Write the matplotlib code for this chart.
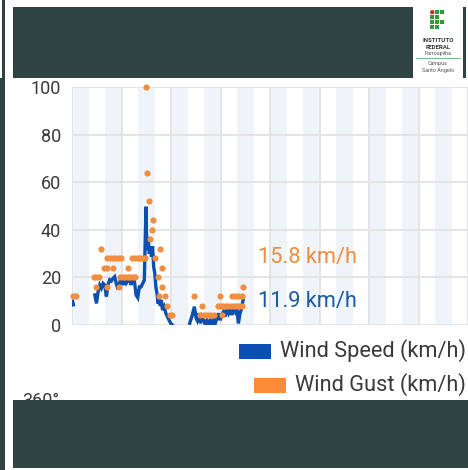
import matplotlib
matplotlib.use('Agg')
import matplotlib.pyplot as plt
from matplotlib.patches import Rectangle, Circle
import numpy as np

W, H = 468, 470

# ---------------- data (time in minutes since start) ----------------
speed_t = [2, 5, 40,
           83, 89, 95, 101, 107, 113, 119, 125, 131, 137, 143, 149, 155, 161, 167, 173,
           179, 185, 191, 197, 203, 209, 215, 221, 227, 233, 239, 245, 251, 263, 269,
           272, 277, 281, 285, 289, 293, 297, 301, 305, 309, 313, 317, 321, 325, 329,
           335, 341, 347, 353, 359, 365, 400,
           428, 437, 445, 451, 455, 461, 467, 473, 479, 485, 491, 497, 503, 509, 515,
           521, 527, 533, 539, 545, 551, 557, 563, 569, 575, 581, 587, 593, 599, 605,
           611, 617, 623]
speed_v = [10, 8.5, np.nan,
           12.6, 9.1, 14, 16.8, 15.5, 17.5, 16.8, 12, 17, 19, 18.5, 19.6, 20.3, 17.5, 15, 17.5,
           20.3, 16.8, 19, 17.5, 18.5, 19.6, 16.8, 20.3, 18.5, 12.6, 11.5, 16, 16, 18.9, 49.7,
           31.5, 37, 30, 33, 28.7, 33, 24.5, 21.7, 16, 13.3, 9, 12, 8, 10.5, 6.3,
           7.7, 5, 3.5, 2, 0.7, 0, np.nan,
           0.7, 4, 7.7, 3, 2, 4.9, 0.7, 3.5, 2, 0, 2, 0.7, 2, 0, 2,
           0.7, 2.8, 4.9, 2, 4.2, 5.6, 3.5, 6.3, 4.9, 7, 4.2, 7, 5.6, 7.7, 0.7,
           4.9, 7, 11.2]

gust_t = [2, 14,
          79, 89, 98, 89, 107, 116, 128, 128,
          128, 139, 149, 158, 169, 179, 149,
          176, 185, 194, 203, 212, 221, 230, 170, 203,
          218, 228, 239, 248, 259, 266,
          270, 274, 281, 284, 290, 296, 302, 311, 320, 326, 329, 317, 338, 344, 356, 365,
          445, 473, 467, 479, 491, 503, 515, 539,
          530, 540, 550, 559, 569, 578, 588, 598, 607, 617,
          583, 593, 605, 617, 623, 545]
gust_v = [12, 12,
          20, 20, 20, 16, 32, 24, 24, 16,
          28, 28, 28, 28, 28, 28, 24,
          20, 20, 20, 20, 20, 20, 20, 16, 24,
          28, 28, 28, 28, 28, 28,
          100, 64, 52, 36, 40, 44, 28, 20, 32, 24, 16, 12, 12, 8, 4, 4,
          12, 8, 4, 4, 4, 4, 4, 12,
          8, 8, 8, 8, 8, 8, 8, 8, 8, 8,
          12, 12, 12, 12, 16, 4]

y_ticks = [0, 20, 40, 60, 80, 100]
latest_gust_label = "15.8 km/h"
latest_speed_label = "11.9 km/h"
legend_labels = ["Wind Speed (km/h)", "Wind Gust (km/h)"]
next_axis_label = "360°"

# ---------------- style ----------------
DARK = '#2f4442'
BLUE = '#0b4fb0'
ORANGE = '#f28e3f'
BAND = '#eef4fa'
GRID = '#e4e4e4'
TXT = '#3a3a3a'
FONT = ['Roboto', 'DejaVu Sans']
plt.rcParams['font.family'] = FONT

fig = plt.figure(figsize=(W / 100, H / 100), dpi=100)
fig.patch.set_facecolor('white')


def fx(px):
    return px / W


def fy(py):
    return 1 - py / H


def rect(x0, y0, x1, y1, color, z=2, **kw):
    fig.add_artist(Rectangle((fx(x0), fy(y1)), (x1 - x0) / W, (y1 - y0) / H,
                             transform=fig.transFigure, facecolor=color,
                             edgecolor='none', zorder=z, **kw))


# ---------------- chart ----------------
ax_left, ax_right, ax_top, ax_bottom = 72, 468, 87, 325
ax = fig.add_axes([fx(ax_left), fy(ax_bottom), (ax_right - ax_left) / W,
                   (ax_bottom - ax_top) / H])
px_per_hour = 50 / 3
xmax = (ax_right - ax_left) / px_per_hour
ax.set_xlim(0, xmax)
ax.set_ylim(0, 100)
for k in range(13):
    ax.axvspan(2 * k, 2 * k + 1, color=BAND, lw=0, zorder=0)
ax.set_xticks(np.arange(0, 25, 3))
ax.set_yticks(y_ticks)
ax.grid(True, color=GRID, lw=1.4, zorder=0.5)
ax.set_axisbelow(True)
for s in ax.spines.values():
    s.set_visible(False)
ax.tick_params(axis='x', length=0, labelbottom=False)
ax.tick_params(axis='y', length=0, pad=8, labelsize=13, labelcolor=TXT)

t_speed = np.array(speed_t) / 60.0
t_gust = np.array(gust_t) / 60.0
ax.plot(t_speed, speed_v, color=BLUE, lw=2.4, solid_joinstyle='miter', zorder=3)
ax.scatter(t_gust, gust_v, s=20, color=ORANGE, lw=0, zorder=4, clip_on=False)

fig.text(fx(258), fy(257), latest_gust_label, color='#ef8b3c', fontsize=15.7,
         ha='left', va='center')
fig.text(fx(258), fy(302), latest_speed_label, color='#1b58a5', fontsize=15.7,
         ha='left', va='center')

# ---------------- legend ----------------
fig.canvas.draw()
renderer = fig.canvas.get_renderer()
for label, color, yc in [(legend_labels[0], '#0a4fb5', 351),
                         (legend_labels[1], '#fd8c3a', 385)]:
    t = fig.text(fx(466), fy(yc), label, color=TXT, fontsize=15.7,
                 ha='right', va='center', zorder=3)
    bb = t.get_window_extent(renderer)
    x_text_left = bb.x0
    rect(x_text_left - 9 - 32, yc - 7.5, x_text_left - 9, yc + 7.5, color, z=3)

# partially hidden next chart label
fig.text(fx(22), fy(392), next_axis_label, color=TXT, fontsize=13,
         ha='left', va='top', zorder=1)

# ---------------- frame ----------------
rect(2, 0, 5, 78, DARK)
rect(0, 78, 5, 470, DARK)
rect(13, 7, 466, 78, DARK)
rect(13, 400, 468, 468, DARK)

# logo
rect(413, 4, 463, 78, 'white', z=4)
GREEN = '#2f9a3e'
cells = [(1, 0), (2, 0), (0, 1), (1, 1), (0, 2), (1, 2), (2, 2), (0, 3), (1, 3)]
for c, r in cells:
    x0 = 430 + c * 5
    y0 = 10 + r * 5
    rect(x0, y0, x0 + 4.3, y0 + 4.3, GREEN, z=5)
fig.add_artist(Circle((fx(432.2), fy(12.2)), 2.2 / W, transform=fig.transFigure,
                      facecolor='#d9262b', edgecolor='none', zorder=5))
fig.text(fx(438), fy(40.2), 'INSTITUTO', fontsize=4.4, fontweight='bold',
         color='#333333', ha='center', va='center', zorder=6)
fig.text(fx(438), fy(47.4), 'FEDERAL', fontsize=4.4, fontweight='bold',
         color='#333333', ha='center', va='center', zorder=6)
fig.text(fx(438), fy(53.6), 'Farroupilha', fontsize=3.9, color='#555555',
         ha='center', va='center', zorder=6)
rect(416, 57.8, 461, 58.5, '#7dbb84', z=5)
fig.text(fx(438), fy(63.5), 'Campus', fontsize=3.9, color='#555555',
         ha='center', va='center', zorder=6)
fig.text(fx(438), fy(70.3), 'Santo Ângelo', fontsize=3.9, color='#555555',
         ha='center', va='center', zorder=6)

fig.savefig('out.png', dpi=100, facecolor='white')
